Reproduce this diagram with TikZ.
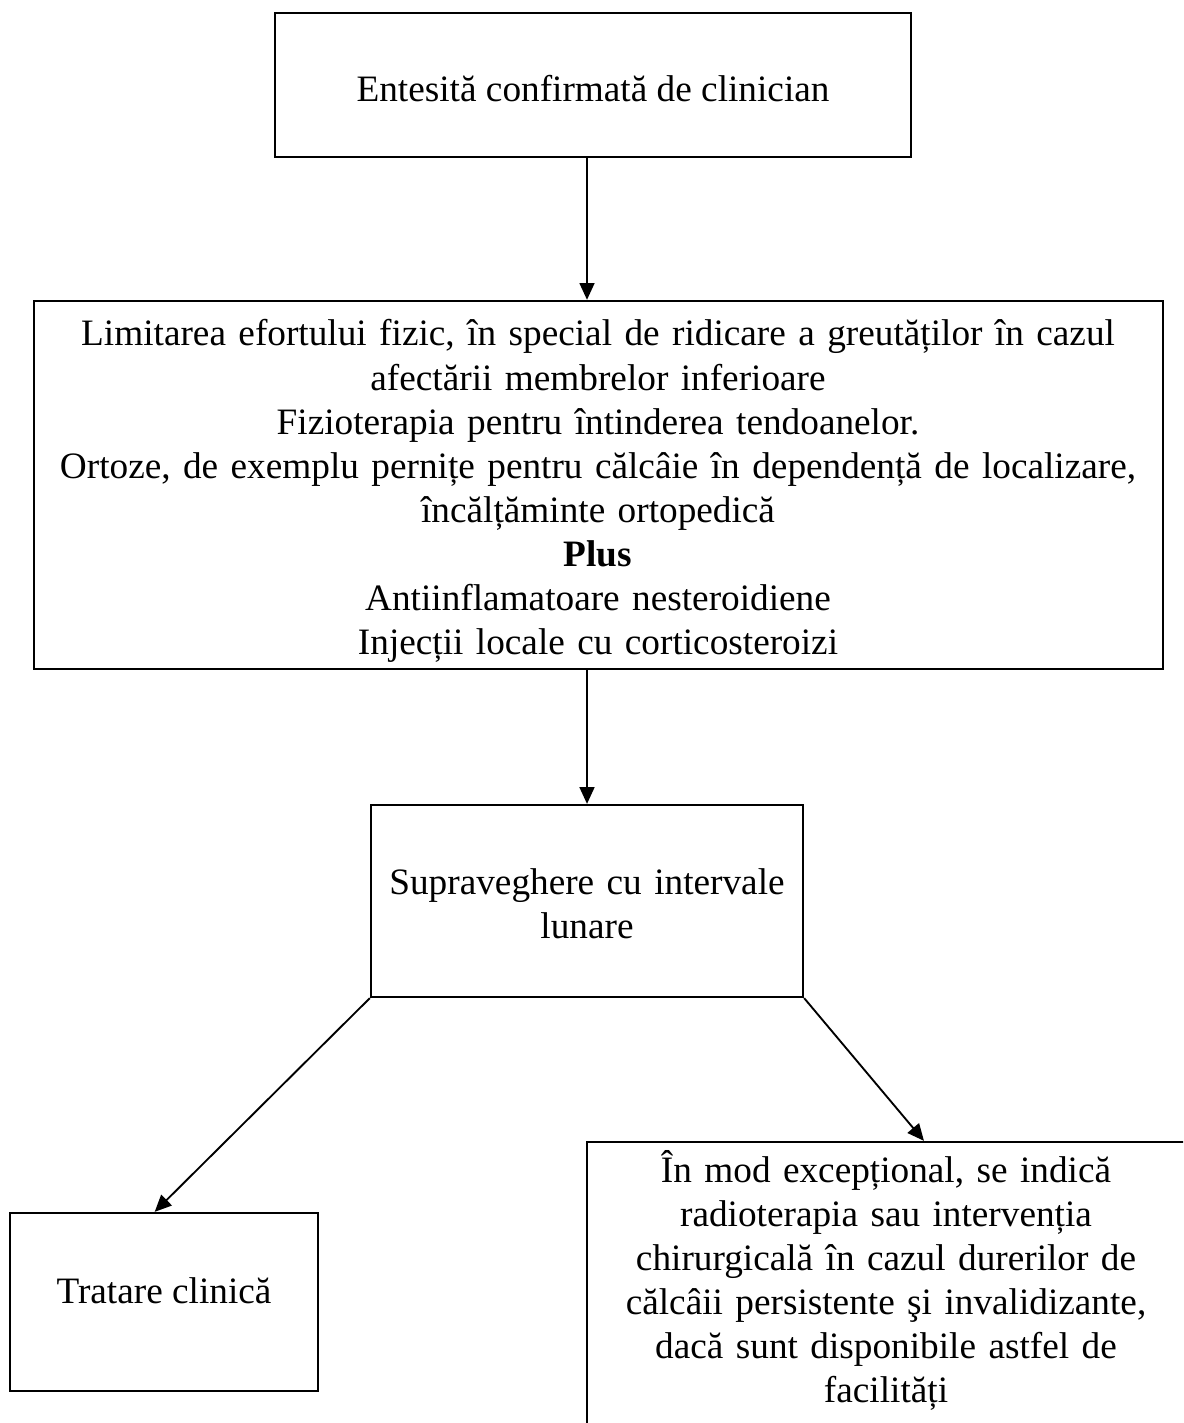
\documentclass[tikz,border=0pt]{standalone}
\usepackage{fontspec}
\setmainfont{Liberation Serif}
\usetikzlibrary{arrows.meta}

\tikzset{
  box/.style={draw, line width=0.75pt, inner sep=0pt},
  txt/.style={anchor=base, align=center, inner sep=0pt, font=\fontsize{12}{14.2}\selectfont},
  arr/.style={-{Triangle[length=5.4pt, width=4.8pt]}, line width=0.6pt},
}

\begin{document}
\begin{tikzpicture}[x=0.322pt, y=-0.322pt]
  % page frame, in pixels of the 1183 x 1423 sheet
  \useasboundingbox (0,0) rectangle (1183,1423);
  \clip (0,0) rectangle (1183,1423);

  % Boxes
  \node[box, minimum width=204.8pt, minimum height=46.4pt] (ent) at (593,85) {};
  \node[box, minimum width=363.5pt, minimum height=118.5pt] (lim) at (598.5,485) {};
  \node[box, minimum width=139.1pt, minimum height=61.8pt] (sup) at (587,901) {};
  \node[box, minimum width=99.2pt, minimum height=57.3pt] (trat) at (164,1302) {};
  \node[box, minimum width=193.2pt, minimum height=96.6pt] (exc) at (887,1292) {};

  % Texts (placed on the baseline of their first line)
  \node[txt] (entT) at (593,102) {Entesită confirmată de clinician};
  \node[txt, text width=360pt] (limT) at (598,346)
    {Limitarea efortului fizic, în special de ridicare a greutăților în cazul\\
     afectării membrelor inferioare\\
     Fizioterapia pentru întinderea tendoanelor.\\
     Ortoze, de exemplu pernițe pentru călcâie în dependență de localizare,\\
     încălțăminte ortopedică\\
     \textbf{Plus}\\
     Antiinflamatoare nesteroidiene\\
     Injecții locale cu corticosteroizi};
  \node[txt, text width=135pt] (supT) at (587,894)
    {Supraveghere cu intervale\\ lunare};
  \node[txt] (tratT) at (164,1303) {Tratare clinică};
  \node[txt, text width=185pt] (excT) at (886,1182)
    {În mod excepțional, se indică\\
     radioterapia sau intervenția\\
     chirurgicală în cazul durerilor de\\
     călcâii persistente şi invalidizante,\\
     dacă sunt disponibile astfel de\\
     facilități};

  % Arrows
  \draw[arr] (sup.north |- ent.south) -- (sup.north |- lim.north);
  \draw[arr] (sup.north |- lim.south) -- (sup.north);
  \draw[arr] (sup.south west) -- ([xshift=-3pt]trat.north);
  \draw[arr] (sup.south east) -- ([xshift=11.9pt]exc.north);
\end{tikzpicture}
\end{document}
